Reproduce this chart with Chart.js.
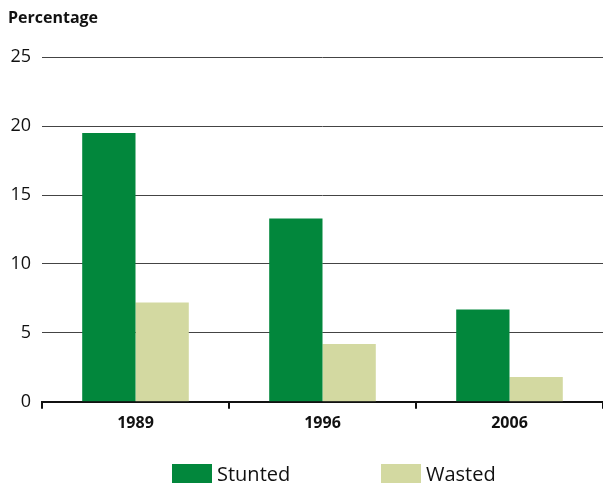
<!DOCTYPE html>
<html>
<head>
<meta charset="utf-8">
<script src="https://cdn.jsdelivr.net/npm/chart.js@4"></script>
<style>
  body { margin: 0; background: #fff; }
  #wrap { position: relative; width: 603px; height: 483px; }
  #legend { position: absolute; left: 0; top: 464px; width: 603px; height: 19px; font-family: "Open Sans", sans-serif; font-size: 20px; line-height: 19px; color: #111; }
  .item { position: absolute; top: 0; display: flex; align-items: center; }
  .box { width: 40px; height: 19px; margin-right: 5px; }
</style>
</head>
<body>
<div id="wrap">
  <canvas id="chart" width="603" height="483"></canvas>
  <div id="legend"></div>
</div>
<script>
const years = ['1989', '1996', '2006'];
const stunted = [19.5, 13.3, 6.7];
const wasted = [7.2, 4.2, 1.8];
const seriesNames = ['Stunted', 'Wasted'];
const seriesColors = ['#02873c', '#d3d9a1'];

const ctx = document.getElementById('chart').getContext('2d');
const chart = new Chart(ctx, {
    type: 'bar',
    data: {
        labels: years,
        datasets: [{
            label: seriesNames[0],
            data: stunted,
            backgroundColor: seriesColors[0],
            categoryPercentage: 0.57,
            barPercentage: 1.0
        }, {
            label: seriesNames[1],
            data: wasted,
            backgroundColor: seriesColors[1],
            categoryPercentage: 0.57,
            barPercentage: 1.0
        }]
    },
    options: {
        responsive: false,
        animation: false,
        layout: {
            padding: { left: 8, right: 0, top: 0, bottom: 45 }
        },
        plugins: {
            legend: { display: false },
            tooltip: { enabled: false },
            title: {
                display: true,
                text: 'Percentage',
                align: 'start',
                color: '#111',
                font: { family: 'Open Sans', size: 16, weight: 'bold' },
                padding: { top: 9, bottom: 29 }
            }
        },
        scales: {
            x: {
                grid: {
                    drawOnChartArea: false,
                    drawTicks: true,
                    tickLength: 7,
                    color: '#111',
                    lineWidth: 2,
                    offset: true
                },
                border: { display: true, color: '#111', width: 2 },
                ticks: {
                    color: '#111',
                    font: { family: 'Open Sans', size: 16, weight: 'bold' },
                    padding: 5
                }
            },
            y: {
                min: 0,
                max: 25,
                afterFit: function(scale) { scale.width = 34; },
                grid: {
                    drawTicks: false,
                    color: '#444',
                    lineWidth: 1
                },
                border: { display: false },
                ticks: {
                    stepSize: 5,
                    color: '#111',
                    font: { family: 'Open Sans', size: 18 },
                    padding: 11
                }
            }
        }
    }
});

// legend built from the datasets
const legend = document.getElementById('legend');
const lefts = [172, 381];
chart.data.datasets.forEach((ds, i) => {
    const item = document.createElement('div');
    item.className = 'item';
    item.style.left = lefts[i] + 'px';
    item.innerHTML = '<span class="box" style="background:' + ds.backgroundColor + '"></span><span>' + ds.label + '</span>';
    legend.appendChild(item);
});
</script>
</body>
</html>
